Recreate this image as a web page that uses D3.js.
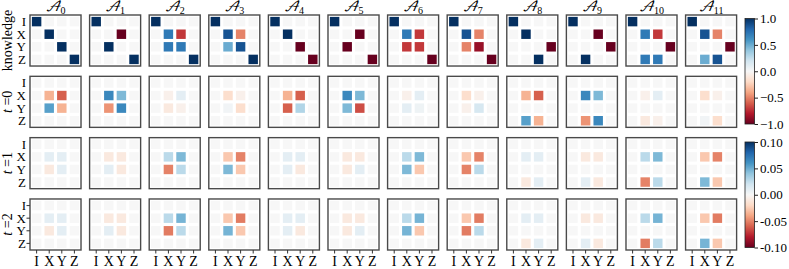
<!DOCTYPE html>
<html>
<head>
<meta charset="utf-8">
<script src="https://cdn.jsdelivr.net/npm/d3@7"></script>
<style>
  body { margin: 0; background: #fff; }
  text { font-family: "Liberation Serif", "Times New Roman", serif; fill: #000; }
</style>
</head>
<body>
<div id="chart"></div>
<script>
// pauli basis used for rows and columns of every panel
const paulis = ["I", "X", "Y", "Z"];
const channels = d3.range(12);
const rowLabels = ["knowledge", "t=0", "t=1", "t=2"];

// row-major 4x4 transfer matrices, one per channel
const knowledge = [
  [1,0,0,0, 0,1,0,0, 0,0,1,0, 0,0,0,1],
  [1,0,0,0, 0,0,-1,0, 0,1,0,0, 0,0,0,1],
  [1,0,0,0, 0,0.71,-0.71,0, 0,0.71,0.71,0, 0,0,0,1],
  [1,0,0,0, 0,0.87,-0.5,0, 0,0.5,0.87,0, 0,0,0,1],
  [1,0,0,0, 0,1,0,0, 0,0,-1,0, 0,0,0,-1],
  [1,0,0,0, 0,0,-1,0, 0,-1,0,0, 0,0,0,-1],
  [1,0,0,0, 0,0.71,-0.71,0, 0,-0.71,-0.71,0, 0,0,0,-1],
  [1,0,0,0, 0,0.87,-0.5,0, 0,-0.5,-0.87,0, 0,0,0,-1],
  [1,0,0,0, 0,1,0,0, 0,0,0,-1, 0,0,1,0],
  [1,0,0,0, 0,0,-1,0, 0,0,0,-1, 0,1,0,0],
  [1,0,0,0, 0,0.71,-0.71,0, 0,0,0,-1, 0,0.71,0.71,0],
  [1,0,0,0, 0,0.87,-0.5,0, 0,0,0,-1, 0,0.5,0.87,0]
];

const step0 = [
  [0,0,0,0, 0,-0.35,-0.6,0, 0,0.55,-0.35,0, 0,0,0,0],
  [0,0,0,0, 0,0.65,0.45,0, 0,-0.45,0.65,0, 0,0,0,0],
  [0,0,0,0, 0,-0.05,0.1,0, 0,-0.1,-0.05,0, 0,0,0,0],
  [0,0,0,0, 0,-0.17,-0.05,0, 0,0.03,-0.17,0, 0,0,0,0],
  [0,0,0,0, 0,-0.35,-0.6,0, 0,-0.6,0.3,0, 0,0,0,0],
  [0,0,0,0, 0,0.65,0.45,0, 0,0.45,-0.65,0, 0,0,0,0],
  [0,0,0,0, 0,-0.05,0.1,0, 0,0.1,0.05,0, 0,0,0,0],
  [0,0,0,0, 0,-0.17,-0.05,0, 0,-0.05,0.17,0, 0,0,0,0],
  [0,0,0,0, 0,-0.35,-0.6,0, 0,0,0,0, 0,0.55,-0.35,0],
  [0,0,0,0, 0,0.65,0.45,0, 0,0,0,0, 0,-0.45,0.65,0],
  [0,0,0,0, 0,-0.05,0.1,0, 0,0,0,0, 0,-0.1,-0.05,0],
  [0,0,0,0, 0,-0.17,-0.05,0, 0,0,0,0, 0,0.03,-0.17,0]
];

const step1 = [
  [0,0,0,0, 0,0.01,0.01,0, 0,-0.01,0.01,0, 0,0,0,0],
  [0,0,0,0, 0,-0.01,-0.01,0, 0,0.01,-0.01,0, 0,0,0,0],
  [0,0,0,0, 0,0.027,0.045,0, 0,-0.05,0.027,0, 0,0,0,0],
  [0,0,0,0, 0,-0.027,-0.05,0, 0,0.045,-0.027,0, 0,0,0,0],
  [0,0,0,0, 0,0.01,0.01,0, 0,0.01,-0.01,0, 0,0,0,0],
  [0,0,0,0, 0,-0.01,-0.01,0, 0,-0.01,0.01,0, 0,0,0,0],
  [0,0,0,0, 0,0.027,0.045,0, 0,0.045,-0.027,0, 0,0,0,0],
  [0,0,0,0, 0,-0.027,-0.05,0, 0,-0.05,0.027,0, 0,0,0,0],
  [0,0,0,0, 0,0.01,0.01,0, 0,0,0,0, 0,-0.01,0.01,0],
  [0,0,0,0, 0,-0.01,-0.01,0, 0,0,0,0, 0,0.01,-0.01,0],
  [0,0,0,0, 0,0.027,0.045,0, 0,0,0,0, 0,-0.05,0.027,0],
  [0,0,0,0, 0,-0.027,-0.05,0, 0,0,0,0, 0,0.045,-0.027,0]
];

const step2 = [
  [0,0,0,0, 0,0.01,0.01,0, 0,-0.01,0.01,0, 0,0,0,0],
  [0,0,0,0, 0,-0.01,-0.01,0, 0,0.01,-0.01,0, 0,0,0,0],
  [0,0,0,0, 0,0.027,0.047,0, 0,-0.052,0.027,0, 0,0,0,0],
  [0,0,0,0, 0,-0.027,-0.052,0, 0,0.047,-0.027,0, 0,0,0,0],
  [0,0,0,0, 0,0.01,0.01,0, 0,0.01,-0.01,0, 0,0,0,0],
  [0,0,0,0, 0,-0.01,-0.01,0, 0,-0.01,0.01,0, 0,0,0,0],
  [0,0,0,0, 0,0.027,0.047,0, 0,0.047,-0.027,0, 0,0,0,0],
  [0,0,0,0, 0,-0.027,-0.052,0, 0,-0.052,0.027,0, 0,0,0,0],
  [0,0,0,0, 0,0.01,0.01,0, 0,0,0,0, 0,-0.01,0.01,0],
  [0,0,0,0, 0,-0.01,-0.01,0, 0,0,0,0, 0,0.01,-0.01,0],
  [0,0,0,0, 0,0.027,0.047,0, 0,0,0,0, 0,-0.052,0.027,0],
  [0,0,0,0, 0,-0.027,-0.052,0, 0,0,0,0, 0,0.047,-0.027,0]
];

const rowData = [knowledge, step0, step1, step2];
const rowRange = [1, 1, 0.1, 0.1];

const bigTicks = [1, 0.5, 0, -0.5, -1];
const bigTickLabels = ["1.0", "0.5", "0.0", "\u22120.5", "\u22121.0"];
const smallTicks = [0.1, 0.05, 0, -0.05, -0.1];
const smallTickLabels = ["0.10", "0.05", "0.00", "-0.05", "-0.10"];

// RdBu as in matplotlib (linear between the brewer stops)
const rdbuColors = ["#67001f","#b2182b","#d6604d","#f4a582","#fddbc7","#f7f7f7",
  "#d1e5f0","#92c5de","#4393c3","#2166ac","#053061"];
const rdbu = d3.scaleLinear()
  .domain(d3.range(11).map(i => i / 10))
  .range(rdbuColors)
  .interpolate(d3.interpolateRgb)
  .clamp(true);

const svg = d3.select("#chart")
  .append("svg")
  .attr("width", 789)
  .attr("height", 269);

// panel placement
const xPanel = d3.scaleBand()
  .domain(channels)
  .range([30, 736.6])
  .paddingInner(0.144);

const yPanel = d3.scaleBand()
  .domain(d3.range(4))
  .range([15, 250])
  .paddingInner(0.168);

const cell = d3.scaleBand()
  .domain(paulis)
  .range([0, xPanel.bandwidth()])
  .paddingInner(0.25)
  .paddingOuter(0.15);

const colorFor = (v, r) => rdbu((v / r + 1) / 2);

// draw panels
rowData.forEach((mats, ri) => {
  mats.forEach((m, ci) => {
    const g = svg.append("g")
      .attr("transform", `translate(${xPanel(ci)},${yPanel(ri)})`);

    g.append("rect")
      .attr("width", xPanel.bandwidth())
      .attr("height", yPanel.bandwidth())
      .attr("fill", "#fff");

    const cells = [];
    paulis.forEach((rp, i) => paulis.forEach((cp, j) => cells.push({ rp, cp, v: m[i * 4 + j] })));

    g.selectAll("rect.cell")
      .data(cells)
      .join("rect")
      .attr("class", "cell")
      .attr("x", d => cell(d.cp))
      .attr("y", d => cell(d.rp))
      .attr("width", cell.bandwidth())
      .attr("height", cell.bandwidth())
      .attr("fill", d => colorFor(d.v, rowRange[ri]));

    g.append("rect")
      .attr("width", xPanel.bandwidth())
      .attr("height", yPanel.bandwidth())
      .attr("fill", "none")
      .attr("stroke", "#4a4a4a")
      .attr("stroke-width", 1.4);

    // left tick labels on first column
    if (ci === 0) {
      g.selectAll("text.yl")
        .data(paulis)
        .join("text")
        .attr("class", "yl")
        .attr("x", -4)
        .attr("y", d => cell(d) + cell.bandwidth() / 2)
        .attr("dy", "0.35em")
        .attr("text-anchor", "end")
        .attr("font-size", 13)
        .text(d => d);
      if (ri === 3) {
        g.selectAll("line.yt")
          .data(paulis)
          .join("line")
          .attr("class", "yt")
          .attr("x1", -3.5).attr("x2", 0)
          .attr("y1", d => cell(d) + cell.bandwidth() / 2)
          .attr("y2", d => cell(d) + cell.bandwidth() / 2)
          .attr("stroke", "#333");
      }
    }

    // bottom tick labels on last row
    if (ri === 3) {
      g.selectAll("line.xt")
        .data(paulis)
        .join("line")
        .attr("class", "xt")
        .attr("x1", d => cell(d) + cell.bandwidth() / 2)
        .attr("x2", d => cell(d) + cell.bandwidth() / 2)
        .attr("y1", yPanel.bandwidth())
        .attr("y2", yPanel.bandwidth() + 3.5)
        .attr("stroke", "#333");
      g.selectAll("text.xl")
        .data(paulis)
        .join("text")
        .attr("class", "xl")
        .attr("x", d => cell(d) + cell.bandwidth() / 2)
        .attr("y", yPanel.bandwidth() + 16)
        .attr("text-anchor", "middle")
        .attr("font-size", 14)
        .text(d => d);
    }

    // column titles
    if (ri === 0) {
      const t = g.append("text")
        .attr("x", xPanel.bandwidth() / 2)
        .attr("y", -4)
        .attr("text-anchor", "middle")
        .attr("font-size", 14);
      t.append("tspan")
        .attr("font-family", "'DejaVu Math TeX Gyre', 'DejaVu Sans', serif")
        .attr("font-style", "italic")
        .text("\u{1D49C}");
      t.append("tspan")
        .attr("font-size", 10)
        .attr("dy", 3)
        .text(ci);
    }
  });
});

// row labels
rowLabels.forEach((lab, ri) => {
  const t = svg.append("text")
    .attr("transform", `translate(12,${yPanel(ri) + yPanel.bandwidth() / 2}) rotate(-90)`)
    .attr("text-anchor", "middle")
    .attr("font-size", 14);
  if (ri === 0) {
    t.text(lab);
  } else {
    const parts = lab.split("=");
    t.append("tspan").attr("font-style", "italic").text(parts[0]);
    t.append("tspan").text(" =" + parts[1]);
  }
});

// colorbars
const defs = svg.append("defs");
function colorbar(id, top, bottom, r, ticks, labels) {
  const grad = defs.append("linearGradient")
    .attr("id", id)
    .attr("x1", 0).attr("y1", 1).attr("x2", 0).attr("y2", 0);
  d3.range(11).forEach(i => {
    grad.append("stop")
      .attr("offset", i / 10)
      .attr("stop-color", rdbuColors[i]);
  });
  const scale = d3.scaleLinear().domain([-r, r]).range([bottom, top]);
  svg.append("rect")
    .attr("x", 745).attr("y", top)
    .attr("width", 9.5).attr("height", bottom - top)
    .attr("fill", `url(#${id})`)
    .attr("stroke", "#222")
    .attr("stroke-width", 0.8);
  const axis = d3.axisRight(scale)
    .tickValues(ticks)
    .tickFormat((d, i) => labels[i])
    .tickSize(3.5)
    .tickPadding(2);
  const ag = svg.append("g")
    .attr("transform", "translate(754.5,0)")
    .call(axis);
  ag.select(".domain").remove();
  ag.selectAll(".tick line").attr("stroke", "#222");
  ag.selectAll(".tick text")
    .attr("font-family", "'Liberation Serif', 'Times New Roman', serif")
    .attr("font-size", 13)
    .attr("fill", "#000");
}

colorbar("cbTop", 18.5, 124, 1, bigTicks, bigTickLabels);
colorbar("cbBottom", 142, 247.5, 0.1, smallTicks, smallTickLabels);
</script>
</body>
</html>
